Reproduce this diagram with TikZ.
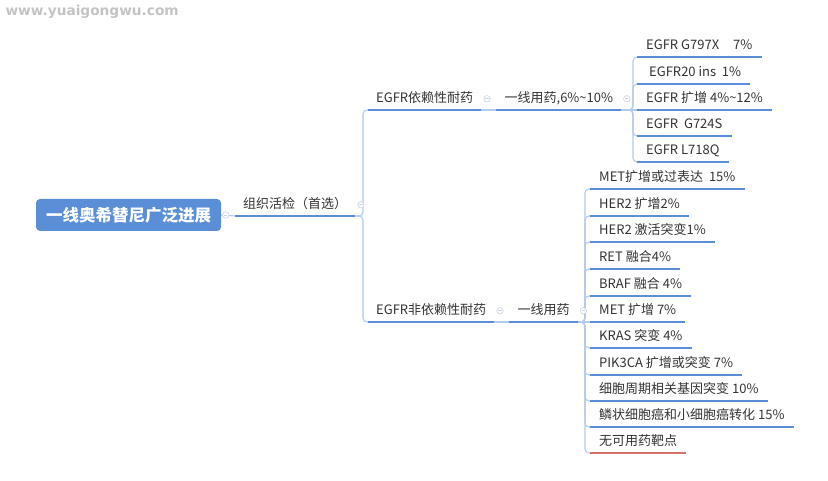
\documentclass[tikz,border=0pt]{standalone}
\usepackage{fontspec}
\setmainfont{Noto Sans CJK SC}
\newfontfamily\markfont{DejaVu Sans}
\usepackage{xcolor}
\definecolor{cMain}{HTML}{5A8ED6}
\definecolor{cLink}{HTML}{B3CAEC}
\definecolor{cText}{HTML}{333333}
\definecolor{cFold}{HTML}{C9D2DF}
\definecolor{cBad}{HTML}{D6726E}
\definecolor{cGray}{HTML}{C4C4C4}
\usetikzlibrary{positioning,backgrounds}
\tikzset{
  node-root/.style={fill=cMain,rounded corners=4pt,text=white,inner sep=0pt,
    minimum width=185pt,minimum height=32pt,
    font=\fontsize{16.5}{18}\selectfont\bfseries},
  node-topic/.style={anchor=south west,inner xsep=8pt,inner ysep=4.5pt,
    text height=10pt,text depth=3pt,text=cText,
    font=\fontsize{13}{15}\selectfont,
    append after command={(\tikzlastnode.south west)
      edge[draw=#1,line width=1.6pt] (\tikzlastnode.south east)}},
  node-topic/.default=cMain,
  node-leaf/.style={node-topic=#1,inner xsep=9pt},
  node-leaf/.default=cMain,
  node-fold/.style={circle,draw=cFold,fill=white,line width=0.6pt,
    minimum size=6.5pt,inner sep=0pt,
    path picture={\draw[cFold,line width=0.6pt]
      ([xshift=-1.6pt]path picture bounding box.center) --
      ([xshift=1.6pt]path picture bounding box.center);}},
  line-conn/.style={draw=cLink,line width=1.1pt,rounded corners=4pt},
}

\begin{document}
\begin{tikzpicture}[x=1pt,y=-1pt]
  \useasboundingbox (0,0) rectangle (828,481);
  \node[anchor=west,text=cGray,font=\markfont\fontsize{13.7}{15}\selectfont\bfseries]
    (mark) at (2,12) {www.yuaigongwu.com};

  % 中心主题与一级分支
  \node[node-root] (root) at (128.5,215) {一线奥希替尼广泛进展};
  \node[node-topic] (biopsy) at (235,216) {组织活检（首选）};
  \node[node-topic] (dep)   at (368,110) {EGFR依赖性耐药};
  \node[node-topic] (indep) at (368,322) {EGFR非依赖性耐药};
  \node[node-topic,right=15pt of dep]   (line1) {一线用药,6\%\textasciitilde 10\%};
  \node[node-topic,right=15pt of indep] (line2) {一线用药};

  % 依赖性耐药
  \node[node-leaf] (g797x) at (637,57)  {EGFR G797X\hspace{14pt}7\%};
  \node[node-leaf] (ins20) at (637,84)  {\hspace{3pt}EGFR20 ins\ \ 1\%};
  \node[node-leaf] (amp)   at (637,110) {EGFR 扩增 4\%\textasciitilde 12\%};
  \node[node-leaf] (g724s) at (637,136) {EGFR\ \ G724S};
  \node[node-leaf] (l718q) at (637,162) {EGFR L718Q};

  % 非依赖性耐药
  \node[node-leaf] (met1)  at (590,189) {MET扩增或过表达\ \ 15\%};
  \node[node-leaf] (her2a) at (590,216) {HER2 扩增2\%};
  \node[node-leaf] (her2m) at (590,242) {HER2 激活突变1\%};
  \node[node-leaf] (ret)   at (590,269) {RET 融合4\%};
  \node[node-leaf] (braf)  at (590,296) {BRAF 融合 4\%};
  \node[node-leaf] (met2)  at (590,322) {MET 扩增 7\%};
  \node[node-leaf] (kras)  at (590,348) {KRAS 突变 4\%};
  \node[node-leaf] (pik)   at (590,375) {PIK3CA 扩增或突变 7\%};
  \node[node-leaf] (cycle) at (590,401) {细胞周期相关基因突变 10\%};
  \node[node-leaf] (sclc)  at (590,427) {鳞状细胞癌和小细胞癌转化 15\%};
  \node[node-leaf=cBad] (none) at (590,453) {无可用药靶点};

  \coordinate (sp0) at (363,216);
  \coordinate (sp1) at (633,110);
  \coordinate (sp2) at (585,322);

  \begin{scope}[on background layer]
    \draw[line-conn] (root.east) -- (biopsy.south west);
    \draw[line-conn] (biopsy.south east) -- (sp0) |- ([xshift=6pt]dep.south west);
    \draw[line-conn] (biopsy.south east) -- (sp0) |- ([xshift=6pt]indep.south west);
    \draw[line-conn] (dep.south east) -- (line1.south west);
    \draw[line-conn] (indep.south east) -- (line2.south west);
    \draw[line-conn] (line1.south east) -- (sp1) |- ([xshift=6pt]g797x.south west);
    \draw[line-conn] (line1.south east) -- (sp1) |- ([xshift=6pt]ins20.south west);
    \draw[line-conn] (line1.south east) -- (amp.south west);
    \draw[line-conn] (line1.south east) -- (sp1) |- ([xshift=6pt]g724s.south west);
    \draw[line-conn] (line1.south east) -- (sp1) |- ([xshift=6pt]l718q.south west);
    \draw[line-conn] (line2.south east) -- (sp2) |- ([xshift=6pt]met1.south west);
    \draw[line-conn] (line2.south east) -- (sp2) |- ([xshift=6pt]her2a.south west);
    \draw[line-conn] (line2.south east) -- (sp2) |- ([xshift=6pt]her2m.south west);
    \draw[line-conn] (line2.south east) -- (sp2) |- ([xshift=6pt]ret.south west);
    \draw[line-conn] (line2.south east) -- (sp2) |- ([xshift=6pt]braf.south west);
    \draw[line-conn] (line2.south east) -- (met2.south west);
    \draw[line-conn] (line2.south east) -- (sp2) |- ([xshift=6pt]kras.south west);
    \draw[line-conn] (line2.south east) -- (sp2) |- ([xshift=6pt]pik.south west);
    \draw[line-conn] (line2.south east) -- (sp2) |- ([xshift=6pt]cycle.south west);
    \draw[line-conn] (line2.south east) -- (sp2) |- ([xshift=6pt]sclc.south west);
    \draw[line-conn] (line2.south east) -- (sp2) |- ([xshift=6pt]none.south west);
  \end{scope}

  % 折叠按钮
  \node[node-fold,right=1pt of root]   (fold-root) {};
  \node[node-fold,right=2pt of biopsy] (fold-biopsy) {};
  \node[node-fold,right=2pt of dep]    (fold-dep) {};
  \node[node-fold,right=2pt of line1]  (fold-line1) {};
  \node[node-fold,right=2pt of indep]  (fold-indep) {};
  \node[node-fold,right=2pt of line2]  (fold-line2) {};
\end{tikzpicture}
\end{document}
